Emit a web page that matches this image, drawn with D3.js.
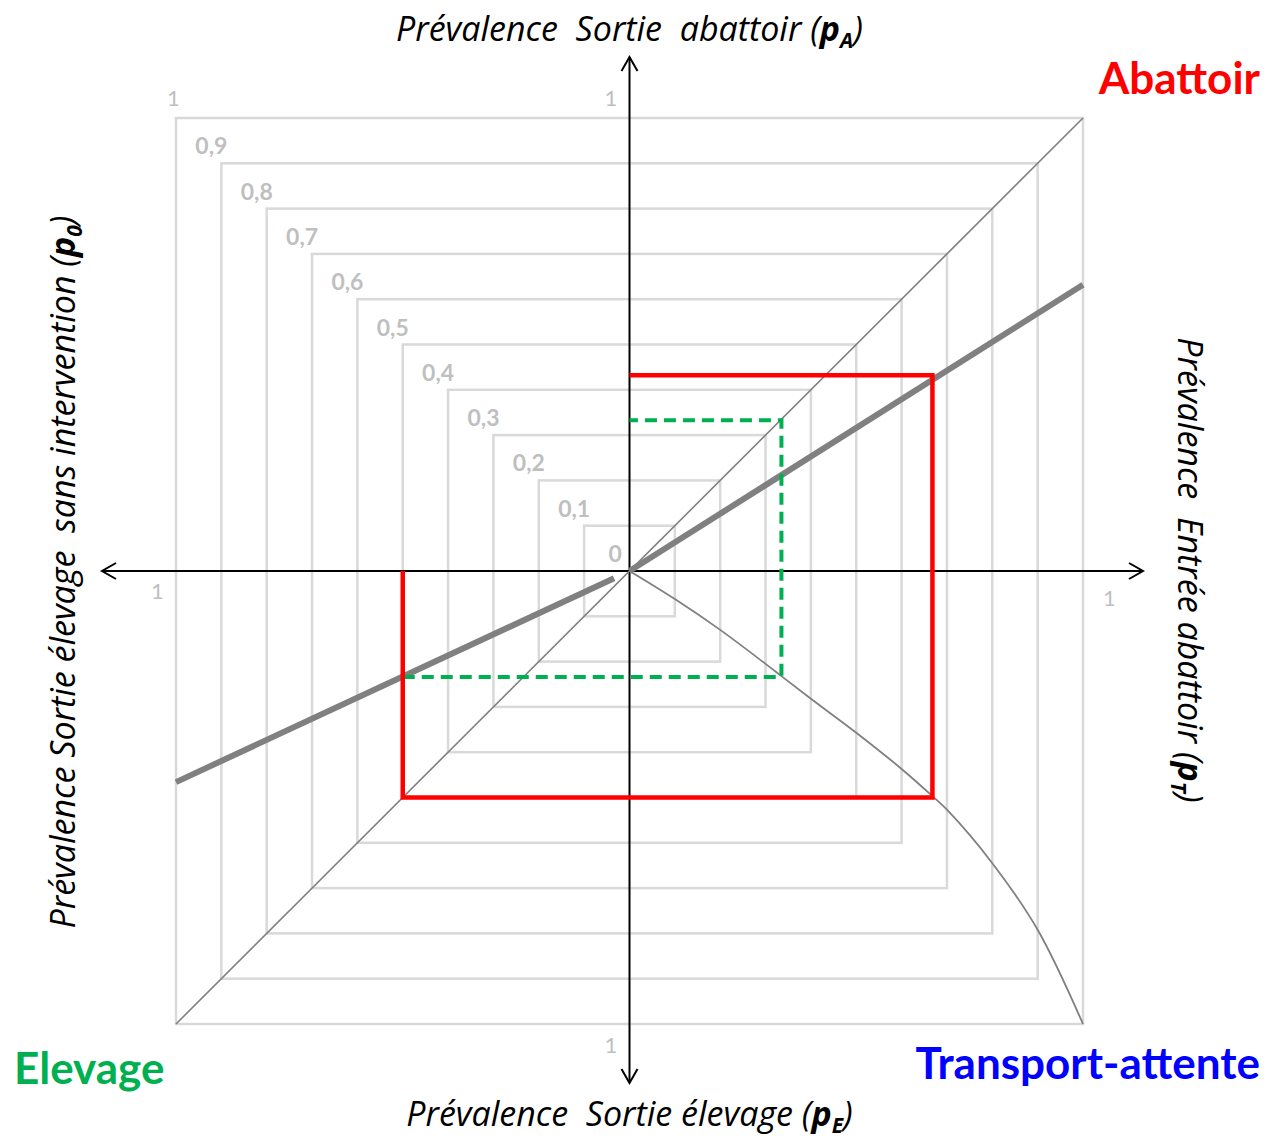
<!DOCTYPE html>
<html>
<head>
<meta charset="utf-8">
<script src="https://cdn.jsdelivr.net/npm/d3@7"></script>
<style>
  html, body { margin: 0; padding: 0; background: #ffffff; }
  svg text { white-space: pre; }
</style>
</head>
<body>
<script>
// Prevalence levels drawn as nested squares, with their labels
const gridLevels = [0, 0.1, 0.2, 0.3, 0.4, 0.5, 0.6, 0.7, 0.8, 0.9];
const gridLabels = ["0", "0,1", "0,2", "0,3", "0,4", "0,5", "0,6", "0,7", "0,8", "0,9"];
const outerLevel = 1;
const axisEndLabel = "1";

// Chart frame: x = pT to the right, -p0 to the left; y = pA upward, -pE downward
// Diagonal pA = pT / pE = p0
const diagonal = [[-1, -1], [1, 1]];
// Slaughterhouse relation pA(pT), quadrant I
const abattoirLine = [[0, 0], [1, 0.632]];
// Farm intervention relation pE(p0), quadrant III
const elevageLine = [[-0.034, -0.016], [-1, -0.466]];
// Transport/holding curve pT(pE), quadrant IV
const transportT = [0, 0.1, 0.2, 0.3, 0.335, 0.4, 0.5, 0.6, 0.668, 0.7, 0.8, 0.9, 1.0];
const transportE = [0, 0.062, 0.13, 0.205, 0.232, 0.282, 0.357, 0.437, 0.497, 0.527, 0.645, 0.792, 1.0];

// Scenario without intervention (red) and with farm intervention (green)
const redP0 = 0.5, redPE = 0.5, redPT = 0.668, redPA = 0.432;
const greenP0 = 0.5, greenPE = 0.234, greenPT = 0.335, greenPA = 0.333;

const W = 1267, H = 1141;
const svg = d3.select("body").append("svg").attr("width", W).attr("height", H);

const x = d3.scaleLinear().domain([-1, 1]).range([176, 1083]);
const y = d3.scaleLinear().domain([-1, 1]).range([1024, 118]);

const FONT = "Lato, 'Open Sans', sans-serif";
const TITLE_FONT = "'Open Sans', Lato, sans-serif";
const gridColor = "#d9d9d9";
const labelColor = "#bfbfbf";

// nested squares
const levels = gridLevels.filter(v => v > 0).concat([outerLevel]);
svg.append("g").selectAll("rect").data(levels).join("rect")
  .attr("x", v => x(-v)).attr("y", v => y(v))
  .attr("width", v => x(v) - x(-v)).attr("height", v => y(-v) - y(v))
  .attr("fill", "none").attr("stroke", gridColor).attr("stroke-width", 2.5);

// level labels at the top-left corner of each square
svg.append("g").selectAll("text").data(gridLevels).join("text")
  .attr("x", v => x(-v) - (v === 0 ? 21 : 26))
  .attr("y", v => y(v) - 9)
  .attr("font-family", FONT).attr("font-weight", "bold").attr("font-size", 23)
  .attr("fill", labelColor)
  .text((v, i) => gridLabels[i]);

// "1" at the outer corner and at each axis end
const ones = [
  [x(-outerLevel) - 9, y(outerLevel) - 12],
  [x(0) - 25, y(outerLevel) - 12],
  [x(-outerLevel) - 25, y(0) + 28],
  [x(outerLevel) + 20, y(0) + 35],
  [x(0) - 25, y(-outerLevel) + 29]
];
svg.append("g").selectAll("text").data(ones).join("text")
  .attr("x", d => d[0]).attr("y", d => d[1])
  .attr("font-family", FONT).attr("font-size", 22).attr("fill", labelColor)
  .text(axisEndLabel);

// axes with open arrow heads
const axes = svg.append("g").attr("stroke", "#000").attr("stroke-width", 2).attr("fill", "none");
const x0 = x(0), y0 = y(0);
axes.append("line").attr("x1", 102).attr("x2", 1143).attr("y1", y0).attr("y2", y0);
axes.append("line").attr("x1", x0).attr("x2", x0).attr("y1", 57).attr("y2", 1083);
const ah = 14, aw = 8;
axes.append("path").attr("d", `M${102 + ah},${y0 - aw} L102,${y0} L${102 + ah},${y0 + aw}`);
axes.append("path").attr("d", `M${1143 - ah},${y0 - aw} L1143,${y0} L${1143 - ah},${y0 + aw}`);
axes.append("path").attr("d", `M${x0 - aw},${57 + ah} L${x0},57 L${x0 + aw},${57 + ah}`);
axes.append("path").attr("d", `M${x0 - aw},${1083 - ah} L${x0},1083 L${x0 + aw},${1083 - ah}`);

const line = d3.line().x(d => x(d[0])).y(d => y(d[1]));

// thin diagonal
svg.append("path").datum(diagonal).attr("d", line)
  .attr("fill", "none").attr("stroke", "#808080").attr("stroke-width", 1.6);

// transport curve
const curvePts = transportT.map((t, i) => [t, -transportE[i]]);
svg.append("path").datum(curvePts)
  .attr("d", d3.line().x(d => x(d[0])).y(d => y(d[1])).curve(d3.curveCatmullRom.alpha(0.5)))
  .attr("fill", "none").attr("stroke", "#808080").attr("stroke-width", 1.8);

// thick relation lines
[abattoirLine, elevageLine].forEach(seg => {
  svg.append("path").datum(seg).attr("d", line)
    .attr("fill", "none").attr("stroke", "#808080").attr("stroke-width", 6);
});

// scenario paths
const redPath = [[-redP0, 0], [-redP0, -redPE], [redPT, -redPE], [redPT, redPA], [0, redPA]];
const greenPath = [[-greenP0, -greenPE], [greenPT, -greenPE], [greenPT, greenPA], [0, greenPA]];

svg.append("path").datum(greenPath).attr("d", line)
  .attr("fill", "none").attr("stroke", "#00b050").attr("stroke-width", 4)
  .attr("stroke-dasharray", "12,7");
svg.append("path").datum(redPath).attr("d", line)
  .attr("fill", "none").attr("stroke", "#ff0000").attr("stroke-width", 4.5)
  .attr("stroke-linejoin", "miter");

// axis titles
function title(g, parts) {
  const t = g.append("text").attr("font-family", TITLE_FONT).attr("font-style", "italic")
    .attr("font-size", 34).attr("fill", "#000").attr("text-anchor", "middle");
  t.append("tspan").text(parts[0]);
  t.append("tspan").attr("font-weight", "bold").text("p");
  t.append("tspan").attr("font-weight", "bold").attr("font-size", 21).attr("dy", 7).text(parts[1]);
  t.append("tspan").attr("dy", -7).text(")");
  return t;
}
title(svg.append("g").attr("transform", `translate(${x0},41)`), ["Prévalence  Sortie  abattoir (", "A"]);
title(svg.append("g").attr("transform", `translate(${x0},1126)`), ["Prévalence  Sortie élevage (", "E"]);
title(svg.append("g").attr("transform", `translate(75,572) rotate(-90)`), ["Prévalence Sortie élevage  sans intervention (", "0"]);
title(svg.append("g").attr("transform", `translate(1178,570) rotate(90)`), ["Prévalence  Entrée abattoir (", "T"]);

// stage names
const stages = [
  { name: "Abattoir", x: 1260, y: 94, anchor: "end", color: "#ff0000" },
  { name: "Elevage", x: 14, y: 1084, anchor: "start", color: "#00b050" },
  { name: "Transport-attente", x: 1260, y: 1079, anchor: "end", color: "#0000ff" }
];
svg.append("g").selectAll("text").data(stages).join("text")
  .attr("x", d => d.x).attr("y", d => d.y).attr("text-anchor", d => d.anchor)
  .attr("font-family", FONT).attr("font-weight", "bold").attr("font-size", 44)
  .attr("fill", d => d.color).text(d => d.name);
</script>
</body>
</html>
